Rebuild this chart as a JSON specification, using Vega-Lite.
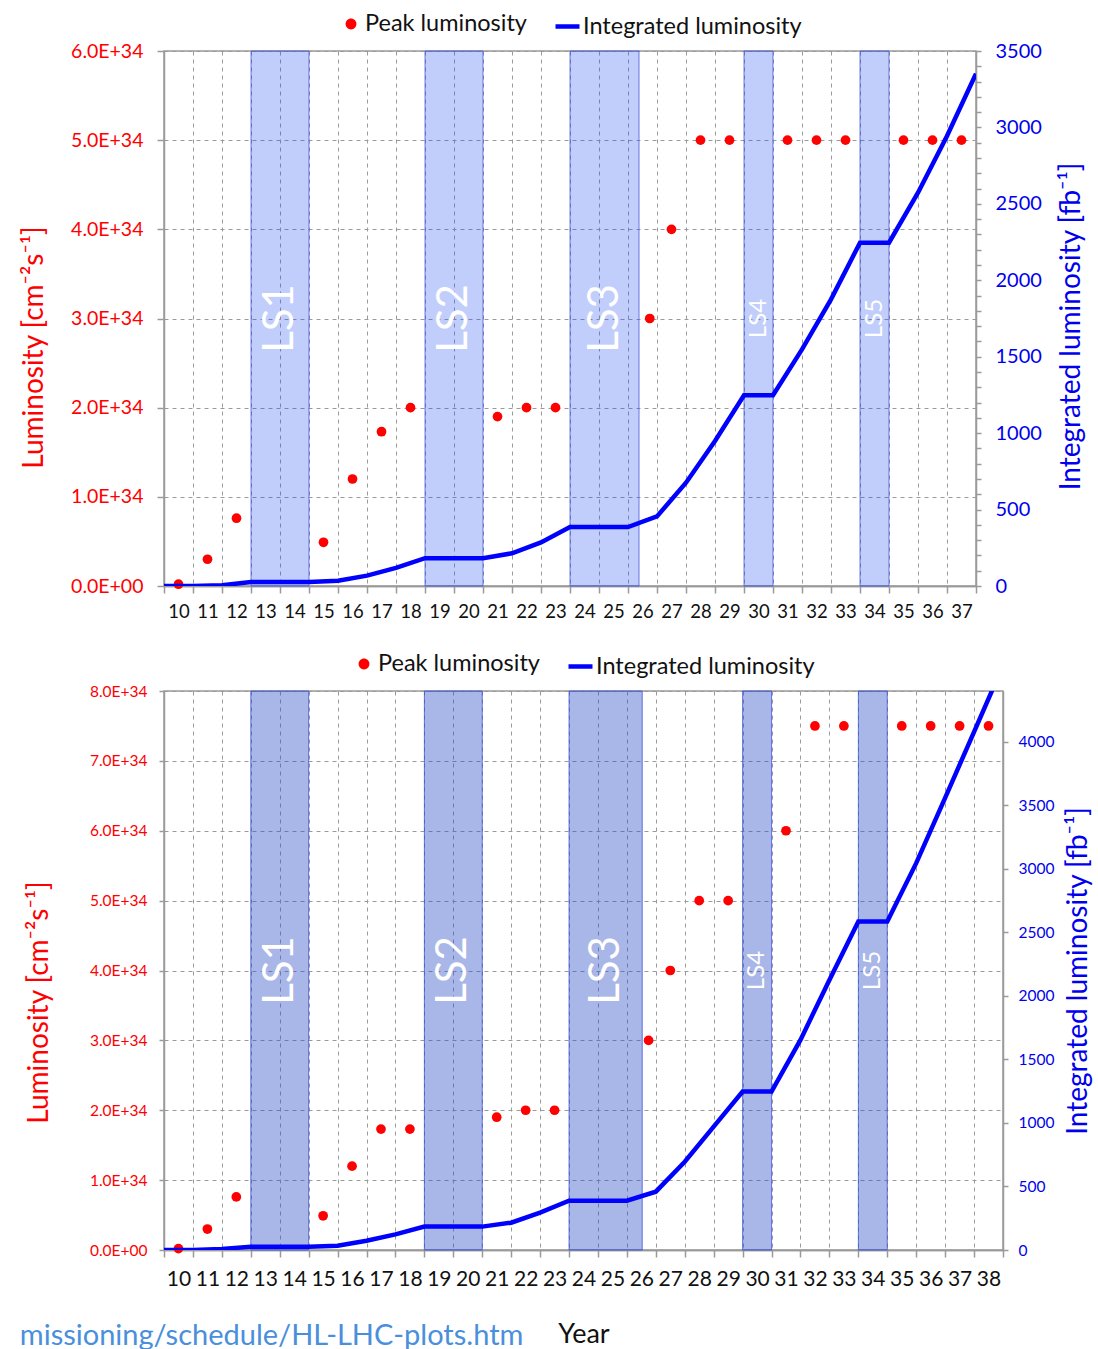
{
  "$schema": "https://vega.github.io/schema/vega-lite/v6.json",
  "background": "white",
  "padding": {"left": 19, "top": 11, "right": 0, "bottom": 0},
  "config": {
    "font": "Lato",
    "view": {"stroke": "#9a9a9a", "strokeWidth": 1.5},
    "axis": {
      "labelFont": "Lato",
      "titleFont": "Lato",
      "titleFontWeight": "normal",
      "gridColor": "#9a9a9a",
      "gridDash": [4, 4],
      "gridWidth": 1,
      "domainColor": "#9a9a9a",
      "domainWidth": 1.5,
      "tickColor": "#9a9a9a",
      "tickWidth": 1.5,
      "labelFlush": false,
      "labelOverlap": false
    },
    "legend": {
      "orient": "top",
      "labelFont": "Lato",
      "labelFontSize": 23.5,
      "labelColor": "#111111",
      "labelLimit": 400,
      "offset": 13,
      "layout": {"top": {"anchor": "middle", "direction": "horizontal", "margin": 26}}
    }
  },
  "datasets": {
    "lsStandard": [
      {"label": "LS1", "start": 12.5, "end": 14.5},
      {"label": "LS2", "start": 18.5, "end": 20.5},
      {"label": "LS3", "start": 23.5, "end": 25.88},
      {"label": "LS4", "start": 29.5, "end": 30.5},
      {"label": "LS5", "start": 33.5, "end": 34.5}
    ],
    "lsUltimate": [
      {"label": "LS1", "start": 12.5, "end": 14.5},
      {"label": "LS2", "start": 18.5, "end": 20.5},
      {"label": "LS3", "start": 23.5, "end": 26.03},
      {"label": "LS4", "start": 29.5, "end": 30.5},
      {"label": "LS5", "start": 33.5, "end": 34.5}
    ],
    "peakStandard": [
      {"year": 10, "peak": 2e32},
      {"year": 11, "peak": 3.0e33},
      {"year": 12, "peak": 7.6e33},
      {"year": 15, "peak": 4.9e33},
      {"year": 16, "peak": 1.2e34},
      {"year": 17, "peak": 1.73e34},
      {"year": 18, "peak": 2.0e34},
      {"year": 21, "peak": 1.9e34},
      {"year": 22, "peak": 2.0e34},
      {"year": 23, "peak": 2.0e34},
      {"year": 26.25, "peak": 3.0e34},
      {"year": 27, "peak": 4.0e34},
      {"year": 28, "peak": 5.0e34},
      {"year": 29, "peak": 5.0e34},
      {"year": 31, "peak": 5.0e34},
      {"year": 32, "peak": 5.0e34},
      {"year": 33, "peak": 5.0e34},
      {"year": 35, "peak": 5.0e34},
      {"year": 36, "peak": 5.0e34},
      {"year": 37, "peak": 5.0e34}
    ],
    "peakUltimate": [
      {"year": 10, "peak": 2e32},
      {"year": 11, "peak": 3.0e33},
      {"year": 12, "peak": 7.6e33},
      {"year": 15, "peak": 4.9e33},
      {"year": 16, "peak": 1.2e34},
      {"year": 17, "peak": 1.73e34},
      {"year": 18, "peak": 1.73e34},
      {"year": 21, "peak": 1.9e34},
      {"year": 22, "peak": 2.0e34},
      {"year": 23, "peak": 2.0e34},
      {"year": 26.25, "peak": 3.0e34},
      {"year": 27, "peak": 4.0e34},
      {"year": 28, "peak": 5.0e34},
      {"year": 29, "peak": 5.0e34},
      {"year": 31, "peak": 6.0e34},
      {"year": 32, "peak": 7.5e34},
      {"year": 33, "peak": 7.5e34},
      {"year": 35, "peak": 7.5e34},
      {"year": 36, "peak": 7.5e34},
      {"year": 37, "peak": 7.5e34},
      {"year": 38, "peak": 7.5e34}
    ],
    "intStandard": [
      {"yearEnd": 9.5, "integrated": 0},
      {"yearEnd": 10.5, "integrated": 0},
      {"yearEnd": 11.5, "integrated": 5},
      {"yearEnd": 12.5, "integrated": 26},
      {"yearEnd": 13.5, "integrated": 26},
      {"yearEnd": 14.5, "integrated": 26},
      {"yearEnd": 15.5, "integrated": 35},
      {"yearEnd": 16.5, "integrated": 68},
      {"yearEnd": 17.5, "integrated": 118},
      {"yearEnd": 18.5, "integrated": 182},
      {"yearEnd": 19.5, "integrated": 182},
      {"yearEnd": 20.5, "integrated": 182},
      {"yearEnd": 21.5, "integrated": 214},
      {"yearEnd": 22.5, "integrated": 285},
      {"yearEnd": 23.5, "integrated": 386},
      {"yearEnd": 24.5, "integrated": 386},
      {"yearEnd": 25.5, "integrated": 386},
      {"yearEnd": 26.5, "integrated": 455},
      {"yearEnd": 27.5, "integrated": 676},
      {"yearEnd": 28.5, "integrated": 949},
      {"yearEnd": 29.5, "integrated": 1248},
      {"yearEnd": 30.5, "integrated": 1248},
      {"yearEnd": 31.5, "integrated": 1548},
      {"yearEnd": 32.5, "integrated": 1875},
      {"yearEnd": 33.5, "integrated": 2246},
      {"yearEnd": 34.5, "integrated": 2246},
      {"yearEnd": 35.5, "integrated": 2573},
      {"yearEnd": 36.5, "integrated": 2944},
      {"yearEnd": 37.5, "integrated": 3351}
    ],
    "intUltimate": [
      {"yearEnd": 9.5, "integrated": 0},
      {"yearEnd": 10.5, "integrated": 0},
      {"yearEnd": 11.5, "integrated": 8},
      {"yearEnd": 12.5, "integrated": 26},
      {"yearEnd": 13.5, "integrated": 26},
      {"yearEnd": 14.5, "integrated": 26},
      {"yearEnd": 15.5, "integrated": 34},
      {"yearEnd": 16.5, "integrated": 73},
      {"yearEnd": 17.5, "integrated": 123},
      {"yearEnd": 18.5, "integrated": 184},
      {"yearEnd": 19.5, "integrated": 184},
      {"yearEnd": 20.5, "integrated": 184},
      {"yearEnd": 21.5, "integrated": 215},
      {"yearEnd": 22.5, "integrated": 294},
      {"yearEnd": 23.5, "integrated": 388},
      {"yearEnd": 24.5, "integrated": 388},
      {"yearEnd": 25.5, "integrated": 388},
      {"yearEnd": 26.5, "integrated": 459},
      {"yearEnd": 27.5, "integrated": 695},
      {"yearEnd": 28.5, "integrated": 971},
      {"yearEnd": 29.5, "integrated": 1247},
      {"yearEnd": 30.5, "integrated": 1247},
      {"yearEnd": 31.5, "integrated": 1654},
      {"yearEnd": 32.5, "integrated": 2126},
      {"yearEnd": 33.5, "integrated": 2585},
      {"yearEnd": 34.5, "integrated": 2585},
      {"yearEnd": 35.5, "integrated": 3045},
      {"yearEnd": 36.5, "integrated": 3559},
      {"yearEnd": 37.5, "integrated": 4079},
      {"yearEnd": 38.5, "integrated": 4600}
    ]
  },
  "title": {
    "text": "missioning/schedule/HL-LHC-plots.htm",
    "orient": "bottom",
    "anchor": "start",
    "font": "Lato",
    "fontSize": 29,
    "fontWeight": "normal",
    "color": "#4a8fdc",
    "offset": -26,
    "dx": 0
  },
  "spacing": 29,
  "resolve": {"scale": {"color": "independent", "stroke": "independent"}},
  "vconcat": [
    {
      "width": 812,
      "height": 535,
      "resolve": {"scale": {"y": "independent"}, "axis": {"x": "independent"}},
      "layer": [
        {
          "layer": [
            {
              "data": {"name": "lsStandard"},
              "mark": {"type": "rect", "fill": "#2050f0", "fillOpacity": 0.28, "stroke": "#4055dd", "strokeOpacity": 0.75, "strokeWidth": 1},
              "encoding": {
                "x": {"field": "start", "type": "quantitative", "scale": {"domain": [9.5, 37.5], "nice": false, "zero": false}, "axis": null},
                "x2": {"field": "end"}
              }
            },
            {
              "data": {"name": "lsStandard"},
              "transform": [
                {"calculate": "(datum.start + datum.end) / 2", "as": "mid"},
                {"filter": "datum.end - datum.start >= 2"}
              ],
              "mark": {"type": "text", "angle": 270, "color": "white", "fontSize": 42, "font": "Lato", "align": "center", "baseline": "middle"},
              "encoding": {
                "x": {"field": "mid", "type": "quantitative", "axis": null},
                "y": {"datum": 3.0e34, "type": "quantitative", "scale": {"domain": [0, 6e34], "nice": false}, "axis": null},
                "text": {"field": "label"}
              }
            },
            {
              "data": {"name": "lsStandard"},
              "transform": [
                {"calculate": "(datum.start + datum.end) / 2", "as": "mid"},
                {"filter": "datum.end - datum.start < 2"}
              ],
              "mark": {"type": "text", "angle": 270, "color": "white", "fontSize": 24, "font": "Lato", "align": "center", "baseline": "middle"},
              "encoding": {
                "x": {"field": "mid", "type": "quantitative", "axis": null},
                "y": {"datum": 3.0e34, "type": "quantitative", "axis": null},
                "text": {"field": "label"}
              }
            },
            {
              "mark": {"type": "rect", "fill": "#808080", "cornerRadius": 9},
              "encoding": {
                "x": {"datum": 11.81, "type": "quantitative", "axis": null},
                "x2": {"datum": 18.78},
                "y": {"datum": 5.047e34, "type": "quantitative", "axis": null},
                "y2": {"datum": 5.63e34}
              }
            },
            {
              "mark": {"type": "rect", "fill": "white", "stroke": "#111111", "strokeWidth": 1.2, "cornerRadius": 9},
              "encoding": {
                "x": {"datum": 11.02, "type": "quantitative", "axis": null},
                "x2": {"datum": 17.98},
                "y": {"datum": 5.293e34, "type": "quantitative", "axis": null},
                "y2": {"datum": 5.888e34}
              }
            },
            {
              "mark": {"type": "text", "text": "Standard", "fontSize": 37, "font": "Lato", "color": "#111111", "align": "center", "baseline": "middle"},
              "encoding": {
                "x": {"datum": 14.5, "type": "quantitative", "axis": null},
                "y": {"datum": 5.59e34, "type": "quantitative", "axis": null}
              }
            }
          ]
        },
        {
          "data": {"name": "peakStandard"},
          "mark": {"type": "circle", "size": 95, "opacity": 1},
          "encoding": {
            "x": {
              "field": "year",
              "type": "quantitative",
              "scale": {"domain": [9.5, 37.5], "nice": false, "zero": false},
              "axis": {
                "orient": "bottom",
                "values": [10,11,12,13,14,15,16,17,18,19,20,21,22,23,24,25,26,27,28,29,30,31,32,33,34,35,36,37],
                "format": "d",
                "labelOverlap": false,
                "grid": false,
                "ticks": false,
                "tickSize": 0,
                "labelPadding": 16,
                "labelFontSize": 18.5,
                "labelColor": "#111111",
                "title": null
              }
            },
            "y": {
              "field": "peak",
              "type": "quantitative",
              "scale": {"domain": [0, 6e34], "nice": false},
              "axis": {
                "orient": "left",
                "values": [0, 1e34, 2e34, 3e34, 4e34, 5e34, 6e34],
                "labelExpr": "datum.value == 0 ? '0.0E+00' : replace(format(datum.value, '.1e'), 'e', 'E')",
                "labelOverlap": false,
                "grid": true,
                "tickSize": 7,
                "labelPadding": 14,
                "labelFontSize": 19.5,
                "labelColor": "#ff0000",
                "title": "Luminosity [cm⁻²s⁻¹]",
                "titleColor": "#ff0000",
                "titleFontSize": 28,
                "titlePadding": 22,
                "titleY": 296
              }
            },
            "color": {
              "datum": "Peak luminosity",
              "type": "nominal",
              "scale": {"range": ["#ff0000"]},
              "legend": {
                "title": null,
                "symbolType": "M-0.45,0a0.45,0.45 0 1,0 0.9,0a0.45,0.45 0 1,0 -0.9,0",
                "symbolSize": 576,
                "symbolStrokeWidth": 0,
                "labelOffset": 2,
                "padding": 0
              }
            }
          }
        },
        {
          "data": {"name": "intStandard"},
          "mark": {"type": "line", "strokeWidth": 4.5, "clip": true},
          "encoding": {
            "x": {
              "field": "yearEnd",
              "type": "quantitative",
              "scale": {"domain": [9.5, 37.5], "nice": false, "zero": false},
              "axis": {
                "orient": "bottom",
                "values": [9.5,10.5,11.5,12.5,13.5,14.5,15.5,16.5,17.5,18.5,19.5,20.5,21.5,22.5,23.5,24.5,25.5,26.5,27.5,28.5,29.5,30.5,31.5,32.5,33.5,34.5,35.5,36.5,37.5],
                "grid": true,
                "labels": false,
                "ticks": true,
                "tickSize": 7,
                "title": null
              }
            },
            "y": {
              "field": "integrated",
              "type": "quantitative",
              "scale": {"domain": [0, 3500], "nice": false},
              "axis": {
                "orient": "right",
                "values": [0,100,200,300,400,500,600,700,800,900,1000,1100,1200,1300,1400,1500,1600,1700,1800,1900,2000,2100,2200,2300,2400,2500,2600,2700,2800,2900,3000,3100,3200,3300,3400,3500],
                "format": "d",
                "labelExpr": "datum.value % 500 == 0 ? datum.label : ''",
                "labelOverlap": false,
                "grid": false,
                "tickSize": 5,
                "labelPadding": 14,
                "labelFontSize": 20,
                "labelColor": "#0000ee",
                "title": "Integrated luminosity [fb⁻¹]",
                "titleColor": "#0000ee",
                "titleFontSize": 28,
                "titleAngle": 270,
                "titleBaseline": "top",
                "titlePadding": 16,
                "titleY": 275
              }
            },
            "stroke": {
              "datum": "Integrated luminosity",
              "type": "nominal",
              "scale": {"range": ["#0000ff"]},
              "legend": {"title": null, "symbolType": "stroke", "symbolSize": 576, "symbolStrokeWidth": 4.5, "labelOffset": 1, "padding": 0}
            }
          }
        }
      ]
    },
    {
      "width": 839,
      "height": 559,
      "resolve": {"scale": {"y": "independent"}, "axis": {"x": "independent"}},
      "layer": [
        {
          "layer": [
            {
              "data": {"name": "lsUltimate"},
              "mark": {"type": "rect", "fill": "#3050c8", "fillOpacity": 0.42, "stroke": "#3a4fd8", "strokeOpacity": 0.75, "strokeWidth": 1},
              "encoding": {
                "x": {"field": "start", "type": "quantitative", "scale": {"domain": [9.5, 38.5], "nice": false, "zero": false}, "axis": null},
                "x2": {"field": "end"}
              }
            },
            {
              "data": {"name": "lsUltimate"},
              "transform": [
                {"calculate": "(datum.start + datum.end) / 2", "as": "mid"},
                {"filter": "datum.end - datum.start >= 2"}
              ],
              "mark": {"type": "text", "angle": 270, "color": "white", "fontSize": 42, "font": "Lato", "align": "center", "baseline": "middle"},
              "encoding": {
                "x": {"field": "mid", "type": "quantitative", "axis": null},
                "y": {"datum": 4.0e34, "type": "quantitative", "scale": {"domain": [0, 8e34], "nice": false}, "axis": null},
                "text": {"field": "label"}
              }
            },
            {
              "data": {"name": "lsUltimate"},
              "transform": [
                {"calculate": "(datum.start + datum.end) / 2", "as": "mid"},
                {"filter": "datum.end - datum.start < 2"}
              ],
              "mark": {"type": "text", "angle": 270, "color": "white", "fontSize": 24, "font": "Lato", "align": "center", "baseline": "middle"},
              "encoding": {
                "x": {"field": "mid", "type": "quantitative", "axis": null},
                "y": {"datum": 4.0e34, "type": "quantitative", "axis": null},
                "text": {"field": "label"}
              }
            },
            {
              "mark": {"type": "rect", "fill": "#808080", "cornerRadius": 9},
              "encoding": {
                "x": {"datum": 11.84, "type": "quantitative", "axis": null},
                "x2": {"datum": 18.86},
                "y": {"datum": 6.354e34, "type": "quantitative", "axis": null},
                "y2": {"datum": 7.117e34}
              }
            },
            {
              "mark": {"type": "rect", "fill": "white", "stroke": "#111111", "strokeWidth": 1.2, "cornerRadius": 9},
              "encoding": {
                "x": {"datum": 11.08, "type": "quantitative", "axis": null},
                "x2": {"datum": 18.05},
                "y": {"datum": 6.669e34, "type": "quantitative", "axis": null},
                "y2": {"datum": 7.432e34}
              }
            },
            {
              "mark": {"type": "text", "text": "Ultimate", "fontSize": 37, "font": "Lato", "color": "#111111", "align": "center", "baseline": "middle"},
              "encoding": {
                "x": {"datum": 14.56, "type": "quantitative", "axis": null},
                "y": {"datum": 7.05e34, "type": "quantitative", "axis": null}
              }
            }
          ]
        },
        {
          "data": {"name": "peakUltimate"},
          "mark": {"type": "circle", "size": 95, "opacity": 1},
          "encoding": {
            "x": {
              "field": "year",
              "type": "quantitative",
              "scale": {"domain": [9.5, 38.5], "nice": false, "zero": false},
              "axis": {
                "orient": "bottom",
                "values": [10,11,12,13,14,15,16,17,18,19,20,21,22,23,24,25,26,27,28,29,30,31,32,33,34,35,36,37,38],
                "format": "d",
                "labelOverlap": false,
                "grid": false,
                "ticks": false,
                "tickSize": 0,
                "labelPadding": 18,
                "labelFontSize": 21,
                "labelColor": "#111111",
                "title": "Year",
                "titleFontSize": 27,
                "titleColor": "#111111",
                "titlePadding": 32
              }
            },
            "y": {
              "field": "peak",
              "type": "quantitative",
              "scale": {"domain": [0, 8e34], "nice": false},
              "axis": {
                "orient": "left",
                "values": [0, 1e34, 2e34, 3e34, 4e34, 5e34, 6e34, 7e34, 8e34],
                "labelExpr": "datum.value == 0 ? '0.0E+00' : replace(format(datum.value, '.1e'), 'e', 'E')",
                "labelOverlap": false,
                "grid": true,
                "tickSize": 5,
                "labelPadding": 12,
                "labelFontSize": 15.5,
                "labelColor": "#ff0000",
                "title": "Luminosity [cm⁻²s⁻¹]",
                "titleColor": "#ff0000",
                "titleFontSize": 28,
                "titlePadding": 36,
                "titleY": 311
              }
            },
            "color": {
              "datum": "Peak luminosity",
              "type": "nominal",
              "scale": {"range": ["#ff0000"]},
              "legend": {
                "title": null,
                "symbolType": "M-0.45,0a0.45,0.45 0 1,0 0.9,0a0.45,0.45 0 1,0 -0.9,0",
                "symbolSize": 576,
                "symbolStrokeWidth": 0,
                "labelOffset": 2,
                "padding": 0
              }
            }
          }
        },
        {
          "data": {"name": "intUltimate"},
          "mark": {"type": "line", "strokeWidth": 4.5, "clip": true},
          "encoding": {
            "x": {
              "field": "yearEnd",
              "type": "quantitative",
              "scale": {"domain": [9.5, 38.5], "nice": false, "zero": false},
              "axis": {
                "orient": "bottom",
                "values": [9.5,10.5,11.5,12.5,13.5,14.5,15.5,16.5,17.5,18.5,19.5,20.5,21.5,22.5,23.5,24.5,25.5,26.5,27.5,28.5,29.5,30.5,31.5,32.5,33.5,34.5,35.5,36.5,37.5,38.5],
                "grid": true,
                "labels": false,
                "ticks": true,
                "tickSize": 7,
                "title": null
              }
            },
            "y": {
              "field": "integrated",
              "type": "quantitative",
              "scale": {"domain": [0, 4400], "nice": false},
              "axis": {
                "orient": "right",
                "values": [0, 500, 1000, 1500, 2000, 2500, 3000, 3500, 4000],
                "format": "d",
                "labelOverlap": false,
                "grid": false,
                "tickSize": 5,
                "labelPadding": 10,
                "labelFontSize": 15.5,
                "labelColor": "#0000ee",
                "title": "Integrated luminosity [fb⁻¹]",
                "titleColor": "#0000ee",
                "titleFontSize": 28,
                "titleAngle": 270,
                "titleBaseline": "top",
                "titlePadding": 11
              }
            },
            "stroke": {
              "datum": "Integrated luminosity",
              "type": "nominal",
              "scale": {"range": ["#0000ff"]},
              "legend": {"title": null, "symbolType": "stroke", "symbolSize": 576, "symbolStrokeWidth": 4.5, "labelOffset": 1, "padding": 0}
            }
          }
        }
      ]
    }
  ]
}
